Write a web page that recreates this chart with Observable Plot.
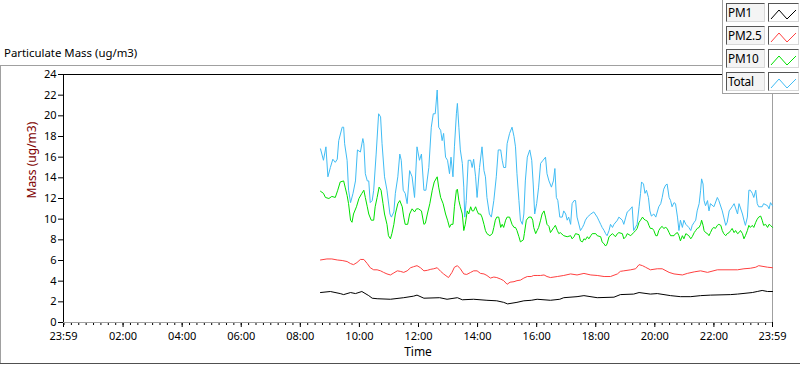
<!DOCTYPE html>
<html>
<head>
<meta charset="utf-8">
<script src="https://cdn.jsdelivr.net/npm/d3@7"></script>
<script src="https://cdn.jsdelivr.net/npm/@observablehq/plot@0.6"></script>
<style>
  html, body { margin: 0; padding: 0; background: #fff; }
  #wrap { position: relative; width: 800px; height: 365px; overflow: hidden; font-family: "Noto Sans", sans-serif; }
  #chart { position: absolute; left: 0; top: 0; }
  .hline, .vline { position: absolute; }
  #title { position: absolute; left: 4px; top: 45px; font-size: 11.4px; color: #000; white-space: nowrap; }
  #legend { position: absolute; left: 722px; top: 0; width: 77px; height: 94px; background: #fff;
            border-left: 1px solid #a0a0a0; border-bottom: 1px solid #a0a0a0; box-sizing: border-box; }
  .lab { position: absolute; left: 3px; width: 39px; height: 19px; box-sizing: border-box; background: #f4f4f4;
         border-top: 1px solid #555; border-left: 1px solid #555; border-right: 1px solid #d8d8d8; border-bottom: 1px solid #d8d8d8;
         font-size: 11.8px; line-height: 17px; padding-left: 1px; color: #000; white-space: nowrap; letter-spacing: -0.2px; }
  .sw { position: absolute; left: 45px; width: 31px; height: 19px; box-sizing: border-box; background: #fff;
        border-top: 1px solid #555; border-left: 1px solid #555; border-right: 1px solid #d8d8d8; border-bottom: 1px solid #d8d8d8; }
  .sw svg { position: absolute; left: 0; top: 0; }
</style>
</head>
<body>
<div id="wrap">
  <div id="chart"></div>
  <div class="hline" style="left:0;top:65px;width:722px;height:1px;background:#a0a0a0"></div>
  <div class="vline" style="left:0;top:65px;width:1px;height:298px;background:#a0a0a0"></div>
  <div class="hline" style="left:0;top:363px;width:800px;height:1px;background:#505050"></div>
  <div id="title">Particulate Mass (ug/m3)</div>
  <div id="legend"></div>
</div>
<script>
// ---- data (time of day, ug/m3) ----
const seriesNames = ["PM1", "PM2.5", "PM10", "Total"];
const seriesColors = ["#000000", "#ff4040", "#00e000", "#40bcf4"];
const yTickValues = [0, 2, 4, 6, 8, 10, 12, 14, 16, 18, 20, 22, 24];
const xTickLabels = ["23:59", "02:00", "04:00", "06:00", "08:00", "10:00", "12:00", "14:00", "16:00", "18:00", "20:00", "22:00", "23:59"];
const yLabel = "Mass (ug/m3)";
const xLabel = "Time";

const pm1 = [
["08:41",2.9],["09:01",3.0],["09:21",2.8],["09:28",2.7],["09:42",2.9],["09:52",2.8],["10:05",3.0],["10:19",2.6],["10:26",2.35],
["10:36",2.3],["11:03",2.25],["11:30",2.4],["11:50",2.55],["11:57",2.65],["12:11",2.35],["12:43",2.4],["12:58",2.25],["13:19",2.4],
["13:29",2.2],["13:52",2.25],["14:19",2.15],["14:39",2.1],["14:53",1.95],["15:01",1.8],["15:20",1.95],["15:34",2.1],["15:49",2.15],
["16:01",2.25],["16:28",2.15],["16:47",2.25],["16:55",2.4],["17:22",2.5],["17:36",2.6],["18:03",2.4],["18:37",2.45],["18:50",2.7],
["19:17",2.75],["19:28",2.9],["19:51",2.75],["20:05",2.8],["20:32",2.6],["20:52",2.5],["21:13",2.5],["21:33",2.6],["21:53",2.65],
["22:34",2.7],["22:48",2.75],["23:18",2.9],["23:28",3.0],["23:38",3.1],["23:49",3.0],["23:59",3.0]
];

const pm25 = [
["08:41",6.05],["08:54",6.15],["09:04",6.15],["09:15",6.05],["09:25",6.0],["09:35",5.9],["09:42",5.7],["09:48",5.6],["09:55",5.8],
["10:02",6.1],["10:09",6.1],["10:16",5.7],["10:22",5.3],["10:29",5.1],["10:36",5.1],["10:43",5.0],["10:49",4.85],["10:56",4.7],
["11:03",4.6],["11:10",4.8],["11:17",5.0],["11:23",4.95],["11:30",4.85],["11:37",5.0],["11:44",5.3],["11:50",5.4],["11:57",5.5],
["12:04",5.3],["12:11",5.0],["12:18",5.05],["12:25",5.15],["12:31",5.2],["12:38",5.3],["12:45",4.95],["12:51",4.7],["12:58",4.45],
["13:01",4.35],["13:08",4.85],["13:13",5.35],["13:19",5.5],["13:25",5.2],["13:32",4.7],["13:38",4.65],["13:46",4.85],["13:52",5.0],
["13:59",5.0],["14:06",4.75],["14:13",4.7],["14:19",4.55],["14:26",4.3],["14:33",4.4],["14:39",4.35],["14:47",4.2],["14:53",4.05],
["15:00",3.7],["15:06",3.9],["15:14",3.95],["15:20",4.05],["15:27",4.1],["15:34",4.3],["15:41",4.45],["15:49",4.45],["15:54",4.55],
["16:01",4.55],["16:08",4.55],["16:15",4.6],["16:21",4.45],["16:28",4.35],["16:42",4.45],["16:55",4.55],["17:09",4.7],["17:22",4.6],
["17:36",4.75],["17:50",4.6],["18:03",4.55],["18:17",4.45],["18:30",4.45],["18:44",4.7],["18:50",4.95],["18:57",5.0],["19:11",5.1],
["19:21",5.2],["19:28",5.6],["19:35",5.5],["19:41",5.35],["19:51",5.1],["20:05",5.2],["20:15",5.2],["20:29",4.85],["20:39",4.7],
["20:56",4.6],["21:06",4.75],["21:20",4.9],["21:33",5.0],["21:47",4.85],["22:07",5.1],["22:48",5.1],["23:01",5.2],["23:14",5.25],
["23:25",5.35],["23:31",5.5],["23:49",5.35],["23:59",5.3]
];

const pm10 = [
["08:41",12.7],["08:47",12.5],["08:51",12.1],["08:58",12.0],["09:04",12.2],["09:11",12.1],["09:16",12.8],["09:21",13.6],["09:28",13.7],
["09:31",13.1],["09:35",12.3],["09:38",11.5],["09:42",9.9],["09:45",9.7],["09:48",10.5],["09:54",11.2],["09:59",12.0],["10:05",12.5],
["10:09",12.8],["10:12",12.1],["10:16",11.2],["10:19",10.5],["10:24",9.9],["10:29",9.9],["10:32",11.2],["10:36",12.1],["10:40",13.1],
["10:44",12.8],["10:48",11.5],["10:51",10.5],["10:56",9.5],["10:59",8.4],["11:03",8.1],["11:06",8.6],["11:10",9.5],["11:13",10.5],
["11:18",11.5],["11:22",11.8],["11:27",11.2],["11:30",10.2],["11:33",9.5],["11:38",9.5],["11:42",10.5],["11:47",11.0],["11:52",10.7],
["11:56",11.0],["12:00",11.0],["12:06",10.8],["12:11",9.5],["12:14",9.6],["12:18",10.5],["12:23",11.5],["12:28",12.8],["12:32",13.6],
["12:38",14.1],["12:41",13.1],["12:45",12.1],["12:50",11.5],["12:55",10.5],["12:59",9.9],["13:03",9.2],["13:06",9.5],["13:10",9.5],
["13:13",11.2],["13:17",12.8],["13:19",12.9],["13:22",11.8],["13:25",11.2],["13:29",10.5],["13:32",8.9],["13:35",9.5],["13:39",10.8],
["13:42",10.5],["13:46",11.2],["13:49",10.8],["13:52",10.8],["13:56",11.2],["13:59",10.8],["14:02",10.5],["14:06",10.5],["14:09",10.2],
["14:13",9.5],["14:16",8.9],["14:19",8.6],["14:25",8.4],["14:30",8.6],["14:33",9.2],["14:36",9.9],["14:39",10.2],["14:43",10.2],
["14:47",9.2],["14:50",9.5],["14:53",9.2],["14:57",9.9],["15:00",10.2],["15:05",10.2],["15:10",9.5],["15:14",9.2],["15:17",9.2],
["15:20",8.9],["15:24",8.3],["15:27",7.8],["15:33",8.0],["15:35",8.6],["15:39",9.9],["15:44",10.2],["15:49",10.2],["15:52",9.9],
["15:54",9.2],["15:58",8.6],["16:01",8.9],["16:04",9.2],["16:08",9.9],["16:11",10.5],["16:15",10.8],["16:18",10.2],["16:21",9.5],
["16:25",9.3],["16:28",8.7],["16:35",9.2],["16:38",9.4],["16:42",8.9],["16:45",8.6],["16:48",8.7],["16:55",8.4],["17:02",8.3],
["17:09",8.4],["17:12",8.1],["17:16",8.3],["17:19",8.6],["17:26",8.5],["17:29",7.9],["17:33",7.8],["17:36",8.1],["17:39",8.0],
["17:43",8.3],["17:46",8.1],["17:50",8.4],["17:53",8.6],["18:00",8.6],["18:03",8.4],["18:10",8.3],["18:13",7.8],["18:17",7.6],
["18:20",7.4],["18:23",7.6],["18:27",8.3],["18:34",8.6],["18:40",8.3],["18:44",8.6],["18:47",8.7],["18:54",8.6],["18:57",8.1],
["19:01",8.3],["19:04",8.6],["19:11",8.4],["19:17",8.7],["19:21",8.9],["19:24",9.1],["19:28",9.7],["19:31",9.9],["19:35",10.2],
["19:38",10.0],["19:41",9.9],["19:45",9.8],["19:48",9.4],["19:51",9.1],["19:55",9.1],["19:58",8.9],["20:02",8.4],["20:05",8.4],
["20:08",8.9],["20:12",9.2],["20:15",9.3],["20:18",9.1],["20:22",9.2],["20:25",9.1],["20:29",8.7],["20:32",8.4],["20:35",8.4],
["20:39",8.4],["20:42",8.6],["20:46",8.7],["20:49",8.4],["20:52",7.9],["20:56",8.4],["20:59",8.1],["21:03",8.6],["21:09",8.4],
["21:13",8.1],["21:16",8.3],["21:20",8.7],["21:23",8.9],["21:26",9.1],["21:30",9.2],["21:33",9.5],["21:35",9.9],["21:38",9.4],
["21:40",8.9],["21:43",8.7],["21:47",8.6],["21:50",8.4],["21:53",8.7],["21:57",9.1],["22:00",9.2],["22:03",9.1],["22:07",9.4],
["22:10",9.5],["22:14",9.4],["22:17",8.9],["22:20",8.6],["22:24",8.4],["22:27",8.6],["22:31",8.7],["22:34",8.9],["22:37",9.1],
["22:41",8.7],["22:44",8.9],["22:48",8.6],["22:51",8.7],["22:54",8.9],["22:58",8.6],["23:01",8.1],["23:04",8.4],["23:08",8.9],
["23:11",9.4],["23:14",9.2],["23:18",9.4],["23:21",9.2],["23:25",9.7],["23:28",10.0],["23:31",10.2],["23:35",10.3],["23:38",9.9],
["23:41",9.4],["23:45",9.5],["23:49",9.2],["23:52",9.5],["23:55",9.4],["23:59",9.2]
];

const total = [
["08:41",16.8],["08:47",15.7],["08:52",17.0],["08:56",14.1],["09:01",15.0],["09:06",15.8],["09:11",15.5],["09:15",15.8],["09:18",17.6],
["09:25",18.9],["09:28",18.9],["09:30",17.3],["09:35",15.7],["09:38",12.8],["09:42",11.6],["09:47",12.5],["09:52",13.7],["09:56",16.7],
["10:02",16.5],["10:07",17.8],["10:09",17.3],["10:12",14.4],["10:16",13.7],["10:19",13.7],["10:22",11.6],["10:26",11.8],["10:29",12.8],
["10:34",16.3],["10:39",20.2],["10:43",19.9],["10:46",17.3],["10:51",14.1],["10:56",12.8],["11:02",10.5],["11:05",10.2],["11:10",10.7],
["11:13",12.5],["11:18",14.1],["11:22",16.3],["11:25",15.7],["11:29",12.8],["11:33",12.5],["11:37",11.5],["11:42",14.7],["11:47",14.1],
["11:52",12.1],["11:57",17.0],["12:02",15.7],["12:06",16.3],["12:11",12.8],["12:15",12.8],["12:21",15.0],["12:26",18.9],["12:30",20.2],
["12:34",20.2],["12:38",22.5],["12:41",18.9],["12:45",18.6],["12:48",17.6],["12:51",18.3],["12:55",16.0],["12:59",15.7],["13:03",14.4],
["13:06",16.0],["13:10",14.1],["13:13",17.0],["13:17",20.2],["13:19",21.2],["13:22",18.9],["13:25",16.7],["13:29",15.4],["13:32",13.1],
["13:34",10.2],["13:37",11.8],["13:41",15.7],["13:46",15.7],["13:49",15.0],["13:52",15.8],["13:56",14.1],["13:59",12.1],["14:04",15.0],
["14:09",17.0],["14:13",14.7],["14:16",14.1],["14:19",12.1],["14:24",10.5],["14:28",10.2],["14:33",11.8],["14:38",14.1],["14:42",16.7],
["14:47",16.7],["14:50",15.7],["14:53",15.0],["14:57",15.0],["15:00",17.3],["15:05",18.3],["15:10",18.9],["15:14",18.0],["15:17",17.0],
["15:20",14.4],["15:24",11.8],["15:27",9.9],["15:31",9.5],["15:34",10.5],["15:37",13.7],["15:41",16.0],["15:46",16.7],["15:50",15.7],
["15:53",13.4],["15:56",10.5],["16:00",11.5],["16:04",13.1],["16:08",15.4],["16:13",15.7],["16:18",16.0],["16:21",14.4],["16:25",13.7],
["16:30",13.1],["16:34",13.7],["16:37",14.9],["16:40",12.1],["16:43",11.8],["16:47",10.2],["16:52",10.2],["16:55",10.8],["16:59",10.5],
["17:02",9.9],["17:05",10.2],["17:09",9.5],["17:12",11.5],["17:16",11.8],["17:19",11.8],["17:22",10.2],["17:29",8.9],["17:33",9.2],
["17:36",9.5],["17:39",9.9],["17:43",10.2],["17:50",10.5],["17:56",10.7],["18:03",10.2],["18:06",9.9],["18:10",9.5],["18:13",9.2],
["18:17",8.9],["18:20",8.6],["18:23",8.4],["18:27",8.9],["18:30",9.5],["18:34",9.2],["18:37",9.5],["18:44",9.9],["18:47",10.2],
["18:54",9.9],["18:57",9.5],["19:01",10.2],["19:04",10.7],["19:07",10.8],["19:14",11.2],["19:17",8.9],["19:24",9.5],["19:28",11.2],
["19:31",12.5],["19:33",13.6],["19:37",13.4],["19:40",12.5],["19:43",12.8],["19:47",12.1],["19:50",10.8],["19:53",10.3],["19:58",10.5],
["20:02",10.2],["20:08",11.2],["20:12",11.5],["20:15",12.1],["20:18",12.9],["20:22",13.3],["20:25",13.4],["20:29",12.1],["20:32",11.8],
["20:35",11.2],["20:39",11.6],["20:42",11.5],["20:46",10.2],["20:49",8.9],["20:52",9.9],["20:56",9.2],["20:59",9.9],["21:03",9.5],
["21:09",9.2],["21:13",8.9],["21:16",9.4],["21:20",9.7],["21:23",9.9],["21:26",10.8],["21:30",11.5],["21:33",12.8],["21:35",13.9],
["21:38",13.4],["21:40",11.8],["21:43",11.3],["21:47",11.8],["21:50",10.8],["21:53",11.5],["22:00",11.2],["22:07",12.1],["22:10",11.8],
["22:17",10.8],["22:20",10.2],["22:24",9.4],["22:27",9.7],["22:31",10.8],["22:37",11.2],["22:41",11.5],["22:48",10.5],["22:51",11.5],
["22:58",10.5],["23:01",9.9],["23:04",9.4],["23:08",10.2],["23:11",12.8],["23:14",12.8],["23:18",12.5],["23:21",12.1],["23:25",12.8],
["23:28",11.5],["23:31",11.2],["23:38",11.2],["23:41",11.5],["23:49",11.3],["23:52",11.0],["23:55",11.6],["23:59",11.3]
];

// ---- build ----
const seriesData = [pm1, pm25, pm10, total];
const dayStart = new Date(2020, 0, 1, 23, 59);
const dayEnd = new Date(2020, 0, 2, 23, 59);
const parseT = (s) => { const [h, m] = s.split(":").map(Number); return new Date(2020, 0, 2, h, m); };
const rows = [];
seriesData.forEach((arr, i) => arr.forEach(([t, v]) => rows.push({ series: seriesNames[i], date: parseT(t), value: v })));

const majorTicks = xTickLabels.map((s, i) => i === 0 ? dayStart : (i === xTickLabels.length - 1 ? dayEnd : parseT(s)));
const labelFor = new Map(majorTicks.map((d, i) => [+d, xTickLabels[i]]));
const minorTicks = d3.timeMinute.every(15).range(new Date(2020, 0, 2, 0, 0), dayEnd);

const chart = Plot.plot({
  width: 800,
  height: 365,
  marginLeft: 63,
  marginRight: 28,
  marginTop: 74,
  marginBottom: 43,
  style: { fontFamily: "'Noto Sans', sans-serif", fontSize: "11px", color: "#000", background: "transparent", overflow: "visible" },
  x: { type: "time", domain: [dayStart, dayEnd] },
  y: { domain: [0, 24] },
  color: { domain: seriesNames, range: seriesColors },
  marks: [
    Plot.axisY(yTickValues, { tickSize: 5, tickPadding: 2, label: null, fontSize: 11 }),
    Plot.axisX(minorTicks, { tickSize: 3, tickFormat: () => "", label: null }),
    Plot.axisX(majorTicks, { tickSize: 5, tickPadding: 5, tickFormat: (d) => labelFor.get(+d), label: null, fontSize: 11 }),
    Plot.ruleY([0], { stroke: "#a0a0a0" }),
    Plot.ruleX([dayEnd], { stroke: "#a0a0a0" }),
    Plot.ruleY([24], { stroke: "#000" }),
    Plot.ruleX([dayStart], { stroke: "#000" }),
    Plot.line(rows, { x: "date", y: "value", z: "series", stroke: "series", strokeWidth: 1 }),
    Plot.text([yLabel], { frameAnchor: "left", rotate: -90, dx: -31, fill: "#800000", fontSize: 12 }),
    Plot.text([xLabel], { frameAnchor: "bottom", dy: 33, fill: "#000", fontSize: 12 })
  ]
});
document.getElementById("chart").appendChild(chart);

// ---- legend ----
const legend = document.getElementById("legend");
const rowTops = [3, 26, 49, 72];
seriesNames.forEach((name, i) => {
  const lab = document.createElement("div");
  lab.className = "lab";
  lab.style.top = rowTops[i] + "px";
  lab.textContent = name;
  legend.appendChild(lab);
  const sw = document.createElement("div");
  sw.className = "sw";
  sw.style.top = rowTops[i] + "px";
  sw.innerHTML = `<svg width="31" height="19"><polyline points="2,15 10,6 18,15 27,6" fill="none" stroke="${seriesColors[i]}" stroke-width="1"/></svg>`;
  legend.appendChild(sw);
});
</script>
</body>
</html>
